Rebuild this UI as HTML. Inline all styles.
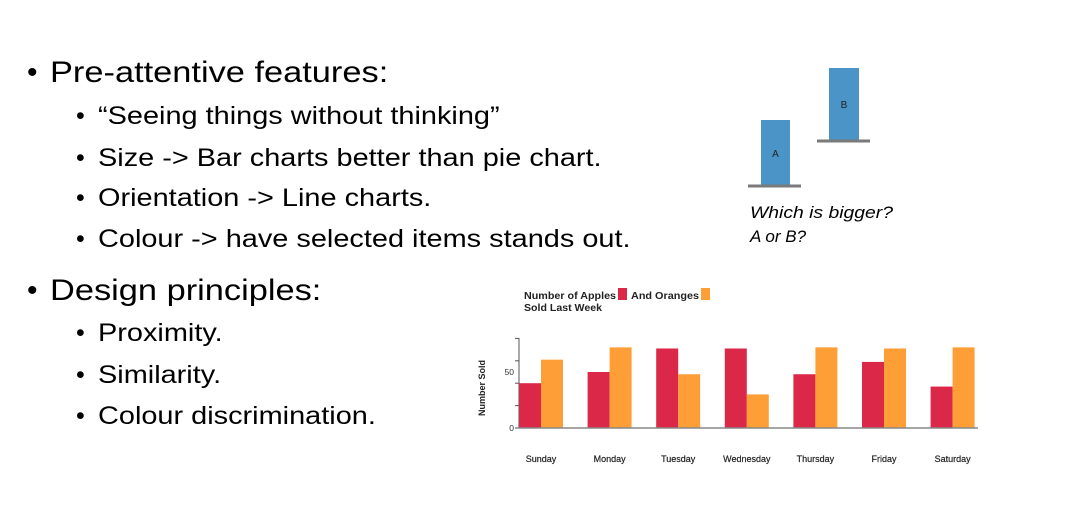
<!DOCTYPE html>
<html><head><meta charset="utf-8"><style>
body{margin:0;width:1079px;height:517px;background:#fff;overflow:hidden;position:relative;font-family:"Liberation Sans",Calibri,sans-serif;color:#000}
.t{position:absolute;white-space:nowrap;line-height:1}
.b1{font-size:30px;left:27px}
.b2{font-size:25px;left:76px}
.l1{font-size:30px;left:50px;transform:scaleX(1.146);transform-origin:0 0}
.l2{font-size:25px;left:98px;transform:scaleX(1.156);transform-origin:0 0}
</style></head><body>
<div class="t b1" style="top:58px">•</div><div class="t l1" style="top:58px">Pre-attentive features:</div>
<div class="t b2" style="top:104px">•</div><div class="t l2" style="top:104px">“Seeing things without thinking”</div>
<div class="t b2" style="top:146px">•</div><div class="t l2" style="top:146px">Size -&gt; Bar charts better than pie chart.</div>
<div class="t b2" style="top:186px">•</div><div class="t l2" style="top:186px">Orientation -&gt; Line charts.</div>
<div class="t b2" style="top:227px">•</div><div class="t l2" style="top:227px">Colour -&gt; have selected items stands out.</div>
<div class="t b1" style="top:276px">•</div><div class="t l1" style="top:276px">Design principles:</div>
<div class="t b2" style="top:321px">•</div><div class="t l2" style="top:321px">Proximity.</div>
<div class="t b2" style="top:363px">•</div><div class="t l2" style="top:363px">Similarity.</div>
<div class="t b2" style="top:404px">•</div><div class="t l2" style="top:404px">Colour discrimination.</div>

<svg width="1079" height="517" style="position:absolute;left:0;top:0">
<g font-family="Liberation Sans, sans-serif">
<rect x="761" y="120" width="29" height="66" fill="#4a94c7"/>
<line x1="748" y1="186" x2="801" y2="186" stroke="#7a7a7a" stroke-width="3"/>
<text x="775.5" y="157" font-size="10" text-anchor="middle" fill="#222">A</text>
<rect x="829" y="68" width="30" height="72" fill="#4a94c7"/>
<line x1="817" y1="141" x2="870" y2="141" stroke="#7a7a7a" stroke-width="3"/>
<text x="844" y="108" font-size="10" text-anchor="middle" fill="#222">B</text>
<text x="750" y="218" font-size="17" font-style="italic" textLength="143" lengthAdjust="spacingAndGlyphs">Which is bigger?</text>
<text x="750" y="242" font-size="17" font-style="italic">A or B?</text>
</g>
<g id="chart" font-family="Liberation Sans, sans-serif"></g>
</svg>
<script>
const days=["Sunday","Monday","Tuesday","Wednesday","Thursday","Friday","Saturday"];
const apples=[40,50,71,71,48,59,37];
const oranges=[61,72,48,30,72,71,72];
const yTicks=[0,50];
const NS="http://www.w3.org/2000/svg";
const g=document.getElementById("chart");
function mk(t,a,p){const e=document.createElementNS(NS,t);for(const k in a)e.setAttribute(k,a[k]);(p||g).appendChild(e);return e;}
const y0=428,pxPer=1.12,x0=519,step=68.6,bw=22;
const y=v=>y0-v*pxPer;
const xg=i=>x0+i*step;
let t=mk("text",{x:524,y:299,"font-size":"10","font-weight":"bold",fill:"#222",textLength:"92",lengthAdjust:"spacingAndGlyphs"});t.textContent="Number of Apples";


let r=mk("rect",{x:618,y:288,width:9,height:12,fill:"#dc2848"});


t=mk("text",{x:631,y:299,"font-size":"10","font-weight":"bold",fill:"#222",textLength:"68",lengthAdjust:"spacingAndGlyphs"});t.textContent="And Oranges";
r=mk("rect",{x:701,y:288,width:9,height:12,fill:"#fd9e37"});


t=mk("text",{x:524,y:311,"font-size":"10","font-weight":"bold",fill:"#222",textLength:"78",lengthAdjust:"spacingAndGlyphs"});t.textContent="Sold Last Week";
mk("line",{x1:x0,y1:338,x2:x0,y2:y0,stroke:"#555","stroke-width":1});
for(let v=0;v<=80;v+=20){mk("line",{x1:x0-4,y1:y(v),x2:x0,y2:y(v),stroke:"#555"});}
yTicks.forEach(v=>{const e=mk("text",{x:x0-5,y:y(v)+3,"font-size":"8.5","text-anchor":"end",fill:"#333"});e.textContent=v;

});
t=mk("text",{x:0,y:0,"font-size":"9","font-weight":"bold",fill:"#222","text-anchor":"middle",transform:"translate(485,388) rotate(-90)"});t.textContent="Number Sold";


days.forEach((d,i)=>{
 const a=mk("rect",{x:xg(i),y:y(apples[i]),width:bw,height:apples[i]*pxPer,fill:"#dc2848"});
 
 
 const o=mk("rect",{x:xg(i)+bw,y:y(oranges[i]),width:bw,height:oranges[i]*pxPer,fill:"#fd9e37"});
 
 
 const l=mk("text",{x:xg(i)+bw,y:462,"font-size":"9","text-anchor":"middle",fill:"#222","stroke":"#222","stroke-width":"0.2"});l.textContent=d;
 
 
});
mk("line",{x1:x0,y1:y0,x2:978,y2:y0,stroke:"#888","stroke-width":1.5});
</script>
</body></html>
